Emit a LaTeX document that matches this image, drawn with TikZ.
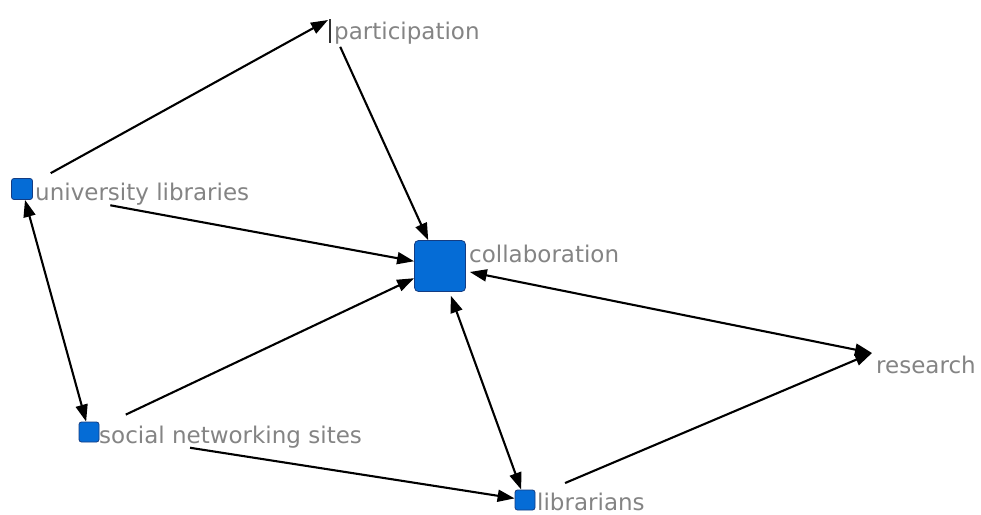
\documentclass[tikz,border=0pt]{standalone}
\usepackage{fontspec}
\setmainfont{DejaVu Sans}
\usetikzlibrary{arrows.meta}
\definecolor{nodeblue}{RGB}{5,108,214}
\definecolor{nodeedge}{RGB}{20,60,130}
\definecolor{labelgray}{RGB}{132,132,132}
\begin{document}
\begin{tikzpicture}[x=1pt,y=-1pt,
  vsq/.style={draw=nodeedge,line width=0.8pt,fill=nodeblue,rounded corners=2.5pt,inner sep=0pt,minimum size=#1},
  vlab/.style={anchor=base west,inner sep=0pt,text=labelgray,font=\fontsize{23}{23}\selectfont},
  edge/.style={line width=2.1pt,-{Triangle[length=17pt,width=12pt]}},
  biedge/.style={line width=2.1pt,{Triangle[length=17pt,width=12pt]}-{Triangle[length=17pt,width=12pt]}}]
\useasboundingbox (0,0) rectangle (981,514);
\fill[white] (0,0) rectangle (981,514);
% vertices
\node[vsq=21pt] (ul) at (22,189) {};
\node[vsq=51pt,rounded corners=4pt] (col) at (440,266) {};
\node[vsq=20pt] (sns) at (89,432) {};
\node[vsq=20pt] (lib) at (525,500) {};
\coordinate (part) at (328,20);
\node[fill=black!80,inner sep=0pt,minimum width=2pt,minimum height=24pt,anchor=north] (partbar) at (329.5,19) {};
\coordinate (res) at (872,353);
% labels
\node[vlab] (ullab) at (35,200) {university libraries};
\node[vlab] (partlab) at (334,39) {participation};
\node[vlab] (collab) at (469,262) {collaboration};
\node[vlab] (reslab) at (876,373) {research};
\node[vlab] (snslab) at (99,443) {social networking sites};
\node[vlab] (liblab) at (537,510) {librarians};
% edges
\draw[edge,shorten <=32.8pt] (ul.center) -- (part);
\draw[edge,shorten <=29.5pt] (part) -- (col);
\draw[edge,shorten <=89.8pt] (ul.center) -- (col);
\draw[edge,shorten <=40.7pt] (sns.center) -- (col);
\draw[biedge] (ul) -- (sns);
\draw[biedge,shorten <=4pt] (col) -- (res);
\draw[biedge,shorten <=4pt] (col) -- (lib);
\draw[edge,shorten <=43.5pt] (lib.center) -- (res);
\draw[edge,shorten <=102.3pt] (sns.center) -- (lib);
\end{tikzpicture}
\end{document}
